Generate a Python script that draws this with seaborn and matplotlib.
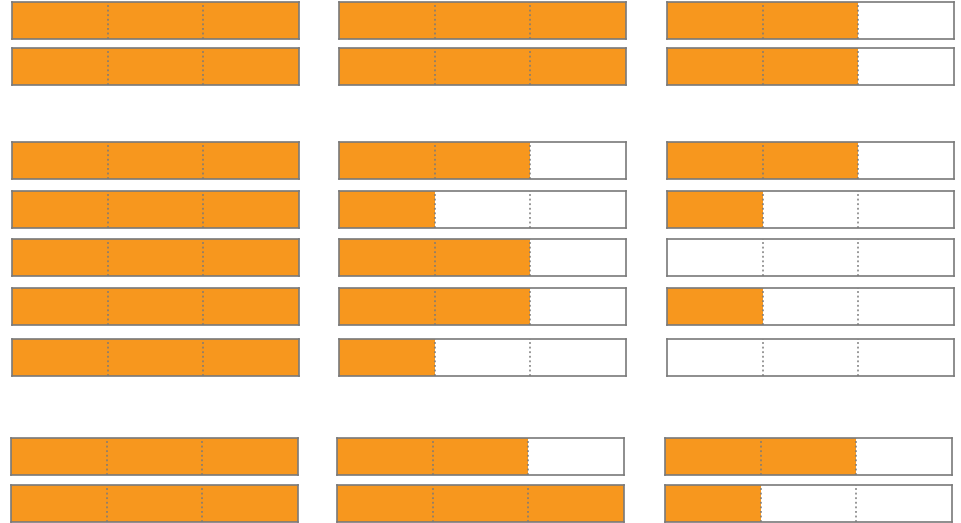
import numpy as np
import pandas as pd
import matplotlib as mpl
mpl.use("Agg")
import matplotlib.pyplot as plt
import seaborn as sns

# filled segments (out of 3) for each bar, row by row, three columns
col1 = [3, 3, 3, 3, 3, 3, 3, 3, 3]
col2 = [3, 3, 2, 1, 2, 2, 1, 2, 3]
col3 = [2, 2, 2, 1, 0, 1, 0, 2, 1]
n_segments = 3

orange = "#F7971E"
edge = "#7a7a7a"

W, H = 961, 523
fig = plt.figure(figsize=(W / 100, H / 100), dpi=100)

row_tops = [2, 48, 142, 191, 239, 288, 339, 438, 485]
bar_h = 37
bar_w = 287
col_lefts = [[12, 339, 667]] * 7 + [[11, 337, 665]] * 2

for r, vals in enumerate(zip(col1, col2, col3)):
    for c, v in enumerate(vals):
        left = col_lefts[r][c]
        ax = fig.add_axes([left / W, 1 - (row_tops[r] + bar_h) / H, bar_w / W, bar_h / H])
        df = pd.DataFrame({"filled": [v], "row": [0]})
        sns.barplot(data=df, x="filled", y="row", orient="h", width=1,
                    color=orange, saturation=1, ax=ax, linewidth=0)
        for k in range(1, n_segments):
            ax.axvline(k, color=edge, linestyle=(0, (1.2, 1.8)), linewidth=1.1)
        ax.set_xlim(0, n_segments)
        ax.set_ylim(0.5, -0.5)
        ax.set_xticks([])
        ax.set_yticks([])
        ax.set_xlabel("")
        ax.set_ylabel("")
        for s in ax.spines.values():
            s.set_color(edge)
            s.set_linewidth(1.2)

fig.savefig("out.png", dpi=100)
